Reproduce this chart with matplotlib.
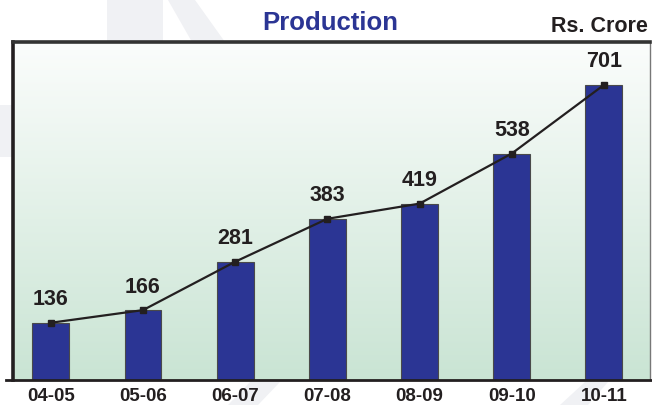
import numpy as np
import matplotlib
matplotlib.use('Agg')
import matplotlib.pyplot as plt
from matplotlib.patches import Polygon
from matplotlib.lines import Line2D

years = ['04-05', '05-06', '06-07', '07-08', '08-09', '09-10', '10-11']
production = [136, 166, 281, 383, 419, 538, 701]

bar_color = '#2B3594'
text_color = '#231F20'

plt.rcParams['font.family'] = ['Liberation Sans', 'DejaVu Sans']

W, H = 652, 405
fig = plt.figure(figsize=(W / 100, H / 100), dpi=100)

# faint watermark shapes behind the chart
wm = '#F0F1F4'
def px(pts):
    return [(x / W, 1 - y / H) for x, y in pts]
for shape in [
    [(107, 0), (163, 0), (163, 42), (107, 42)],
    [(168, 0), (195, 0), (225, 42), (192, 42)],
    [(0, 105), (12, 105), (12, 157), (0, 157)],
    [(228, 405), (258, 405), (280, 382), (250, 382)],
    [(560, 405), (588, 405), (608, 382), (585, 382)],
]:
    fig.patches.append(Polygon(px(shape), closed=True, transform=fig.transFigure,
                               facecolor=wm, edgecolor='none', zorder=-5))

ax = fig.add_axes([13 / W, 25 / H, 637 / W, 338 / H])
ax.set_zorder(1)
x = np.arange(len(years))
ax.set_xlim(-0.41, 6.5)
ax.set_ylim(0, 803)

# vertical gradient fill of the plot area
top = np.array([0.985, 0.992, 0.988])
bot = np.array([0.79, 0.895, 0.83])
t = np.linspace(0, 1, 256)[:, None]
grad = (top * (1 - t) + bot * t)[:, None, :]
ax.imshow(grad, extent=[-0.41, 6.5, 0, 803], aspect='auto', zorder=0,
          interpolation='bicubic')

ax.bar(x, production, width=0.40, color=bar_color, edgecolor='#4a4a4a',
       linewidth=0.8, zorder=2)
ax.plot(x, production, color=text_color, linewidth=1.6, marker='s',
        markersize=5, zorder=3)

for xi, v in zip(x, production):
    ax.annotate(str(v), (xi, v), xytext=(0, 9), textcoords='offset points',
                ha='center', va='bottom', fontsize=15.5, fontweight='bold',
                color=text_color)

ax.set_xticks(x)
ax.set_xticklabels(years, fontsize=13.5, fontweight='bold', color=text_color)
ax.tick_params(axis='x', length=0, pad=6)
ax.set_yticks([])

ax.spines['left'].set_linewidth(2.6)
ax.spines['left'].set_color(text_color)
ax.spines['top'].set_linewidth(2.6)
ax.spines['top'].set_color('#333333')
ax.spines['right'].set_linewidth(1.0)
ax.spines['right'].set_color('#777777')
ax.spines['bottom'].set_visible(False)

# baseline runs past the frame on both sides
fig.add_artist(Line2D([6 / W, 1.0], [25 / H, 25 / H], color=text_color,
                      linewidth=2.0, transform=fig.transFigure, zorder=5))

fig.text(330 / W, 1 - 23 / H, 'Production', ha='center', va='center',
         fontsize=18.5, fontweight='bold', color=bar_color)
fig.text(648 / W, 1 - 26 / H, 'Rs. Crore', ha='right', va='center',
         fontsize=15.5, fontweight='bold', color=text_color)

fig.savefig('out.png', dpi=100)
